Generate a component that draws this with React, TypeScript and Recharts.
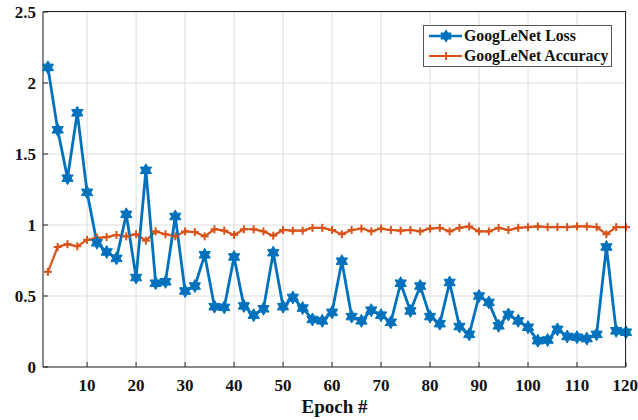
import { LineChart, Line, XAxis, YAxis, CartesianGrid } from 'recharts';

// epochs sampled every 2
const epochs = [
  2, 4, 6, 8, 10, 12, 14, 16, 18, 20, 22, 24, 26, 28, 30, 32, 34, 36, 38, 40,
  42, 44, 46, 48, 50, 52, 54, 56, 58, 60, 62, 64, 66, 68, 70, 72, 74, 76, 78, 80,
  82, 84, 86, 88, 90, 92, 94, 96, 98, 100, 102, 104, 106, 108, 110, 112, 114, 116, 118, 120,
];

const lossValues = [
  2.11, 1.67, 1.33, 1.79, 1.23, 0.875, 0.81, 0.765, 1.075, 0.63, 1.385, 0.59, 0.6, 1.06, 0.535, 0.57,
  0.79, 0.425, 0.42, 0.775, 0.43, 0.365, 0.41, 0.805, 0.425, 0.49, 0.415, 0.335, 0.325, 0.385, 0.745,
  0.355, 0.325, 0.4, 0.365, 0.315, 0.59, 0.395, 0.57, 0.355, 0.305, 0.595, 0.285, 0.23, 0.5, 0.455,
  0.29, 0.37, 0.325, 0.28, 0.185, 0.19, 0.265, 0.215, 0.21, 0.2, 0.23, 0.845, 0.255, 0.245,
];

const accuracyValues = [
  0.67, 0.845, 0.865, 0.85, 0.895, 0.91, 0.915, 0.93, 0.92, 0.935, 0.89, 0.955, 0.935, 0.92, 0.955, 0.95,
  0.92, 0.97, 0.96, 0.93, 0.97, 0.97, 0.955, 0.925, 0.965, 0.96, 0.96, 0.98, 0.98, 0.965, 0.935,
  0.965, 0.975, 0.955, 0.975, 0.965, 0.96, 0.965, 0.955, 0.975, 0.98, 0.955, 0.98, 0.99, 0.955, 0.955,
  0.98, 0.965, 0.98, 0.985, 0.99, 0.985, 0.985, 0.985, 0.99, 0.99, 0.985, 0.935, 0.985, 0.985,
];

const xTicks = [10, 20, 30, 40, 50, 60, 70, 80, 90, 100, 110, 120];
const yTicks = [0, 0.5, 1, 1.5, 2, 2.5];

const BLUE = '#0072BD';
const ORANGE = '#D95319';
const AXIS = '#262626';
const FONT = '"Liberation Serif", "Times New Roman", serif';

// chart layout
const W = 638;
const H = 420;
const MARGIN = { top: 12, right: 12, left: 0, bottom: 0 };
const Y_AXIS_W = 43;
const X_AXIS_H = 53;

const data = epochs.map((epoch, i) => ({
  epoch,
  loss: lossValues[i],
  accuracy: accuracyValues[i],
}));

function starPoints(cx: number, cy: number, R: number) {
  const r = R / Math.sqrt(3);
  const pts: string[] = [];
  for (let k = 0; k < 12; k++) {
    const a = -Math.PI / 2 + (k * Math.PI) / 6;
    const rad = k % 2 === 0 ? R : r;
    pts.push(`${cx + rad * Math.cos(a)},${cy + rad * Math.sin(a)}`);
  }
  return pts.join(' ');
}

const StarDot = (props: any) => {
  const { cx, cy, index } = props;
  if (cx == null || cy == null) return null;
  return <polygon key={`s${index}`} points={starPoints(cx, cy, 6.5)} fill={BLUE} stroke={BLUE} strokeWidth={1} />;
};

const PlusDot = (props: any) => {
  const { cx, cy, index } = props;
  if (cx == null || cy == null) return null;
  return (
    <g key={`p${index}`}>
      <line x1={cx - 4} y1={cy} x2={cx + 4} y2={cy} stroke={ORANGE} strokeWidth={2} />
      <line x1={cx} y1={cy - 4} x2={cx} y2={cy + 4} stroke={ORANGE} strokeWidth={2} />
    </g>
  );
};

const legendItems = [
  { name: 'GoogLeNet Loss', color: BLUE, marker: 'star' },
  { name: 'GoogLeNet Accuracy', color: ORANGE, marker: 'plus' },
];

const tickStyle = { fill: '#111', fontSize: 17, fontWeight: 700, fontFamily: FONT };

export default function App() {
  const plotLeft = MARGIN.left + Y_AXIS_W;
  const plotTop = MARGIN.top;
  const plotW = W - plotLeft - MARGIN.right;
  const plotH = H - plotTop - MARGIN.bottom - X_AXIS_H;

  return (
    <div style={{ position: 'absolute', left: 0, top: 0, width: W, height: H, background: '#fff' }}>
      <LineChart width={W} height={H} data={data} margin={MARGIN}>
        <CartesianGrid stroke="#dddddd" strokeWidth={1} />
        <XAxis
          dataKey="epoch"
          type="number"
          domain={[1, 120]}
          ticks={xTicks}
          height={X_AXIS_H}
          tickSize={-5}
          tickMargin={17}
          stroke={AXIS}
          tick={tickStyle}
          label={{ value: 'Epoch #', position: 'insideBottom', offset: 7, fill: '#111', fontSize: 19, fontWeight: 700, fontFamily: FONT }}
        />
        <YAxis
          type="number"
          domain={[0, 2.5]}
          ticks={yTicks}
          width={Y_AXIS_W}
          tickSize={-5}
          tickMargin={12}
          stroke={AXIS}
          tick={tickStyle}
        />
        <Line
          dataKey="accuracy"
          stroke={ORANGE}
          strokeWidth={2.2}
          dot={PlusDot}
          activeDot={false}
          isAnimationActive={false}
        />
        <Line
          dataKey="loss"
          stroke={BLUE}
          strokeWidth={2.8}
          dot={StarDot}
          activeDot={false}
          isAnimationActive={false}
        />
      </LineChart>
      {/* top / right edges of the axes box */}
      <div
        style={{
          position: 'absolute',
          left: plotLeft,
          top: plotTop - 1,
          width: plotW,
          height: plotH + 1,
          borderTop: `1px solid ${AXIS}`,
          borderRight: `1px solid ${AXIS}`,
          boxSizing: 'border-box',
          pointerEvents: 'none',
          zIndex: 2,
        }}
      />
      <div
        style={{
          position: 'absolute',
          left: 423,
          top: 25,
          width: 187,
          height: 40,
          border: '1px solid #555',
          background: '#fff',
          fontFamily: FONT,
          fontWeight: 700,
          fontSize: 15.8,
          color: '#111',
          boxSizing: 'content-box',
          zIndex: 3,
        }}
      >
        {legendItems.map((item) => (
          <div key={item.name} style={{ display: 'flex', alignItems: 'center', height: 20, whiteSpace: 'nowrap' }}>
            <svg width={40} height={20} style={{ flex: 'none' }}>
              <line x1={5} y1={10} x2={38} y2={10} stroke={item.color} strokeWidth={item.marker === 'star' ? 2.5 : 2} />
              {item.marker === 'star' ? (
                <polygon points={starPoints(22, 10, 6)} fill={item.color} stroke={item.color} />
              ) : (
                <g>
                  <line x1={18} y1={10} x2={26} y2={10} stroke={item.color} strokeWidth={2} />
                  <line x1={22} y1={6} x2={22} y2={14} stroke={item.color} strokeWidth={2} />
                </g>
              )}
            </svg>
            <span>{item.name}</span>
          </div>
        ))}
      </div>
    </div>
  );
}
